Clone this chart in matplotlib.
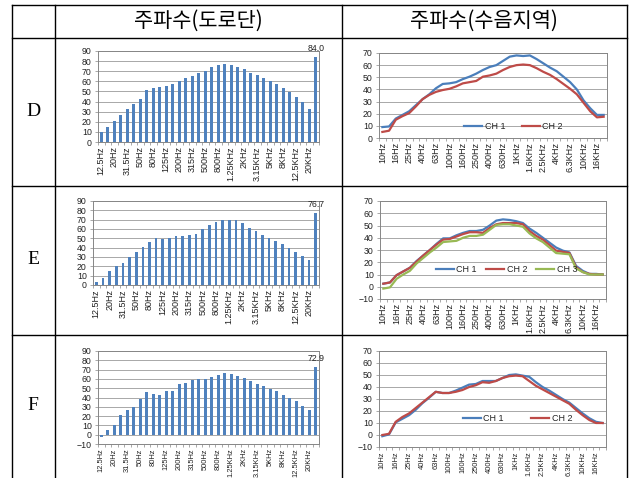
import matplotlib.pyplot as plt
import numpy as np
from matplotlib.lines import Line2D

plt.rcParams['font.family'] = ['Liberation Sans', 'DejaVu Sans']

W, H = 629, 478

bands = ['10Hz', '12.5Hz', '16Hz', '20Hz', '25Hz', '31.5Hz', '40Hz', '50Hz', '63Hz', '80Hz',
         '100Hz', '125Hz', '160Hz', '200Hz', '250Hz', '315Hz', '400Hz', '500Hz', '630Hz', '800Hz',
         '1KHz', '1.25KHz', '1.6KHz', '2KHz', '2.5KHz', '3.15KHz', '4KHz', '5KHz', '6.3KHz', '8KHz',
         '10KHz', '12.5KHz', '16KHz', '20KHz']
road_labels = bands[1:] + ['Total']
area_labels = bands

headers = ['주파수(도로단)', '주파수(수음지역)']
rows = ['D', 'E', 'F']

# road side (bar) levels, last value = overall
road_D = [10, 15, 21, 27, 33, 38, 43, 51, 53, 54, 55, 57, 60, 63, 65, 68, 70, 74, 76, 77, 76,
          74, 72, 68, 66, 63, 60, 57, 53, 49, 45, 40, 33, 84.0]
road_E = [3, 8, 15, 20, 24, 30, 35, 41, 46, 50, 49, 50, 53, 53, 54, 55, 60, 64, 68, 70, 70,
          70, 66, 61, 58, 54, 50, 47, 44, 40, 35, 31, 27, 76.7]
road_F = [-2, 5, 10, 21, 27, 30, 38, 46, 44, 43, 47, 47, 55, 56, 59, 60, 60, 62, 64, 66, 65,
          63, 61, 58, 54, 52, 49, 47, 43, 40, 36, 31, 27, 72.9]

# receiving area levels per channel
area_D_ch1 = [9, 9.5, 16, 19, 22, 27, 32, 36, 41, 44.5, 45, 46, 48.5, 50.5, 53, 56, 58.5, 60,
              63.5, 67, 68, 67.5, 68, 65, 61.5, 58, 55, 50.5, 46, 40, 31, 24.5, 19, 19]
area_D_ch2 = [5, 6, 15, 18, 20.5, 26, 32, 35.5, 38, 39.5, 40.5, 42.5, 45, 46, 47, 50.5, 51.5,
              53, 56, 58.5, 60, 60.5, 60, 57.5, 54.5, 52, 48.5, 44.5, 40.5, 36, 29, 22, 17, 17.5]

area_E_ch1 = [2.5, 3.5, 9.5, 12.5, 15.5, 21, 25.5, 30, 35, 39.5, 39.5, 42, 44, 45.5, 45.5, 46.5,
              50, 54, 55, 54.5, 53.5, 52, 47.5, 44, 40, 36, 32, 29.5, 28, 17, 13, 10.5, 10.5, 10]
area_E_ch2 = [2.5, 3.5, 9.5, 12.5, 15.5, 20.5, 25.5, 30, 34.5, 38.5, 39, 41, 43, 44.5, 44.5, 44,
              48, 51, 52, 52, 52, 51, 45.5, 41.5, 38.5, 34, 29.5, 28.5, 27.5, 16, 12, 10.5, 10, 10]
area_E_ch3 = [-1.5, -0.5, 6.5, 10, 13, 19, 23.5, 28, 32, 36.5, 37, 37.5, 40, 41.5, 41.5, 42.5,
              46.5, 50.5, 51, 51, 50, 49, 43.5, 39.5, 36.5, 32, 27.5, 27, 26.5, 15, 12, 10, 10, 10]

area_F_ch1 = [-1, 0.5, 10.5, 13.5, 16.5, 21, 26.5, 31, 36, 35, 35, 37, 39.5, 42, 42.5, 45, 45,
              45, 47.5, 50, 50.5, 49.5, 48.5, 44, 40, 37, 33.5, 30, 27, 22.5, 18, 14, 11, 10]
area_F_ch2 = [0, 1, 11, 15, 18, 22.5, 27, 31.5, 36, 35, 35, 36, 37.5, 40, 41.5, 44, 43.5, 45,
              47.5, 49, 49.5, 49, 45, 41, 38, 35, 32, 29, 26, 21, 16.5, 12.5, 10, 10]

ch_names = ['CH 1', 'CH 2', 'CH 3']
ch_colors = ['#4A7EBB', '#BE4B48', '#98B954']
bar_color = '#4F81BD'
grid_color = '#9A9A9A'

fig = plt.figure(figsize=(W / 100, H / 100), dpi=100)


def add_ax(x0, y0, x1, y1):
    return fig.add_axes([x0 / W, 1 - y1 / H, (x1 - x0) / W, (y1 - y0) / H])


def style(ax, labels, ylim, xfs):
    n = len(labels)
    ax.set_xlim(-0.5, n - 0.5)
    ax.set_ylim(ylim)
    ax.set_yticks(np.arange(ylim[0], ylim[1] + 1, 10))
    ax.yaxis.grid(True, color=grid_color, lw=0.6)
    ax.set_axisbelow(True)
    ax.set_xticks(np.arange(0, n, 2))
    ax.set_xticklabels(labels[::2], rotation=90, fontsize=xfs, color='#222222')
    ax.set_xticks(np.arange(-0.5, n, 1), minor=True)
    ax.tick_params(axis='x', which='major', length=0, pad=3)
    ax.tick_params(axis='x', which='minor', length=2.5, width=0.5, color='#868686')
    ax.tick_params(axis='y', length=2.5, width=0.5, color='#868686', labelsize=6.3,
                   labelcolor='#222222', pad=2)
    for s in ax.spines.values():
        s.set_color('#868686')
        s.set_linewidth(0.7)


def bar_chart(rect, vals, ylim, xfs=6.5):
    ax = add_ax(*rect)
    x = np.arange(len(vals))
    ax.bar(x, vals, width=0.4, color=bar_color, zorder=3)
    style(ax, road_labels, ylim, xfs)
    ax.annotate(f'{vals[-1]:.1f}', (x[-1], vals[-1]), xytext=(0, 3),
                textcoords='offset points', ha='center', va='bottom', fontsize=6.3,
                color='#222222', annotation_clip=False)


def line_chart(rect, series, ylim, anchor, colspace, xfs=6.5):
    ax = add_ax(*rect)
    x = np.arange(len(series[0]))
    for i, s in enumerate(series):
        ax.plot(x, s, color=ch_colors[i], lw=1.6, label=ch_names[i])
    style(ax, area_labels, ylim, xfs)
    ax.legend(loc='center', bbox_to_anchor=anchor, ncol=len(series), frameon=False,
              fontsize=6.5, handlelength=2.0, handletextpad=0.3, columnspacing=colspace,
              borderpad=0, labelcolor='#222222')


bar_chart((98, 51, 319, 142), road_D, (0, 90))
bar_chart((93, 201, 319, 285), road_E, (0, 90))
bar_chart((98, 351, 319, 444), road_F, (-10, 90), xfs=5.4)

line_chart((379, 53, 607, 138), [area_D_ch1, area_D_ch2], (0, 70), (0.59, 0.13), 1.8)
line_chart((380, 201, 606, 299), [area_E_ch1, area_E_ch2, area_E_ch3], (-10, 70), (0.56, 0.30), 1.0)
line_chart((379, 351, 606, 447), [area_F_ch1, area_F_ch2], (-10, 70), (0.61, 0.30), 3.0, xfs=5.4)

# table grid
def hline(y, x0=12, x1=627):
    fig.add_artist(Line2D([x0 / W, x1 / W], [1 - y / H, 1 - y / H], transform=fig.transFigure,
                          color='black', lw=1.0))


def vline(x, y0=5, y1=478):
    fig.add_artist(Line2D([x / W, x / W], [1 - y0 / H, 1 - y1 / H], transform=fig.transFigure,
                          color='black', lw=1.0))


for y in [5, 38, 186, 335]:
    hline(y)
for x in [12, 55, 342, 627]:
    vline(x)

fig.text(198 / W, 1 - 21 / H, headers[0], ha='center', va='center', fontsize=15,
         family=['Noto Sans CJK KR', 'DejaVu Sans'])
fig.text(484 / W, 1 - 21 / H, headers[1], ha='center', va='center', fontsize=15,
         family=['Noto Sans CJK KR', 'DejaVu Sans'])

for label, yc in zip(rows, [112, 260, 406]):
    fig.text(33 / W, 1 - yc / H, label, ha='center', va='center', fontsize=14,
             family=['Liberation Serif', 'DejaVu Serif'])

fig.savefig('out.png', dpi=100)
